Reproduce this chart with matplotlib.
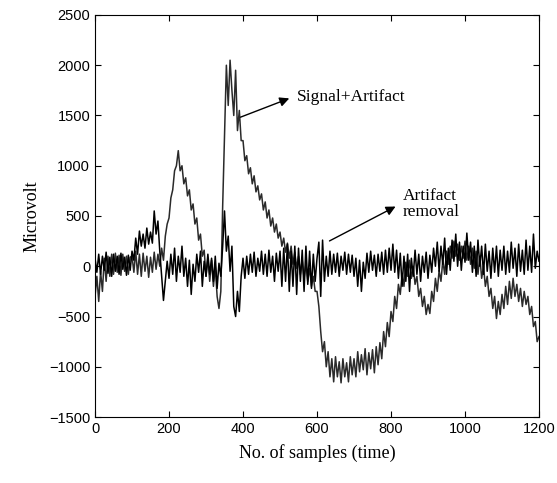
import numpy as np
import matplotlib
matplotlib.use("Agg")
import matplotlib.pyplot as plt

step = 5
samples = np.arange(0, 1201, step)

# Signal + Artifact (values read every 5 samples)
signal_artifact = [
    -300, -100, -350, -50, -250, 80, -150, 100, -100, 120, -80, 130, -60, 110, -90, 120, -50, 100, -80, 90,
    100, -60, 150, -80, 120, -100, 130, -50, 100, -110, 90, -60, 140, -30, 120, 0, 180, 60, 300, 420,
    480, 680, 760, 950, 1000, 1150, 950, 1000, 820, 880, 700, 760, 560, 620, 420, 480, 260, 320, 100, 160,
    -100, 80, -150, 60, -200, 0, -300, -420, -250, 600, 1300, 2000, 1600, 2050, 1750, 1500, 1950, 1350, 1550, 1250,
    1250, 1050, 1100, 920, 980, 820, 900, 740, 800, 660, 720, 560, 640, 480, 560, 400, 480, 340, 420, 280,
    340, 200, 280, 140, 230, 80, 200, 20, 140, -20, 100, -80, 60, -120, 20, -150, -20, -200, -100, -250,
    -250, -400, -650, -850, -750, -1000, -850, -1100, -920, -1150, -900, -1100, -950, -1160, -920, -1100, -960, -1150, -900, -1080,
    -920, -1100, -850, -1050, -880, -1030, -820, -1080, -860, -1020, -830, -1060, -800, -980, -760, -920, -650, -800, -560, -700,
    -450, -550, -300, -420, -180, -280, -80, -200, 40, -100, 60, -120, 0, -180, -100, -300, -220, -400, -300, -480,
    -380, -470, -250, -350, -120, -250, -40, -150, 60, -80, 150, 20, 200, 80, 250, 100, 220, 60, 200, 80,
    250, 60, 200, 20, 180, -20, 150, -80, 100, -120, 0, -200, -100, -300, -220, -420, -300, -520, -350, -480,
    -280, -420, -200, -380, -150, -320, -120, -300, -180, -350, -220, -400, -250, -380, -300, -480, -400, -600, -550, -750,
    -700,
]

# Artifact removal (values read every 5 samples)
artifact_removal = [
    80, -60, 120, -80, 100, -40, 140, -70, 90, -100, 120, -50, 100, -80, 130, -30, 90, -90, 110, -40,
    150, 60, 280, 120, 350, 200, 320, 180, 380, 220, 340, 230, 550, 320, 450, 150, -100, -340, -150, 50,
    -120, 120, -80, 180, -150, 100, -60, 200, -100, 80, -200, 60, -280, 20, -150, 120, -60, 150, -200, 50,
    -100, 120, -80, 80, -150, 100, -220, 30, -100, 200, 550, 150, 300, -50, 200, -400, -500, -250, -450, -100,
    80, -120, 100, -80, 120, -60, 140, -100, 80, -50, 150, -80, 120, -100, 160, -60, 100, -150, 130, -50,
    150, -200, 180, -150, 220, -250, 150, -200, 200, -280, 180, -150, 160, -250, 200, -180, 150, -220, 120, -150,
    80, 240, -300, 260, -150, 100, -100, 150, -80, 120, -60, 130, -100, 100, -40, 140, -80, 120, -60, 110,
    -100, 80, -200, 60, -250, 40, -120, 130, -60, 150, -40, 110, -100, 120, -50, 140, -80, 160, -60, 180,
    -40, 220, -60, 160, -120, 130, -200, 100, -150, 120, -250, 80, -100, 160, -80, 120, -150, 100, -60, 140,
    -120, 110, -60, 180, 0, 240, -50, 200, 20, 280, -80, 180, -40, 260, 50, 320, 0, 240, -40, 200,
    40, 330, 60, 240, -60, 200, -100, 260, 0, 200, -80, 220, -50, 150, -120, 180, -60, 200, -100, 160,
    -40, 200, -80, 150, -60, 240, -20, 180, -100, 220, -50, 160, -80, 260, -40, 200, -60, 320, -20, 150,
    50,
]

x_ticks = [0, 200, 400, 600, 800, 1000, 1200]
y_ticks = [-1500, -1000, -500, 0, 500, 1000, 1500, 2000, 2500]

fig = plt.figure(figsize=(5.57, 4.83), dpi=100)
ax = fig.add_axes([0.1706, 0.1366, 0.7971, 0.8324])

ax.plot(samples, signal_artifact, color="#2a2a2a", lw=1.1)
ax.plot(samples, artifact_removal, color="#000000", lw=1.1)

ax.set_xlim(0, 1200)
ax.set_ylim(-1500, 2500)
ax.set_xticks(x_ticks)
ax.set_yticks(y_ticks)
ax.tick_params(direction="in", top=True, right=True, length=4, width=0.8,
               labelsize=10.5)
for lab in ax.get_xticklabels() + ax.get_yticklabels():
    lab.set_family("Liberation Sans")
for sp in ax.spines.values():
    sp.set_linewidth(0.8)

ax.set_xlabel("No. of samples (time)", family="Liberation Serif", fontsize=13, labelpad=6)
ax.set_ylabel("Microvolt", family="Liberation Serif", fontsize=13, labelpad=6)

ax.annotate("Signal+Artifact", xy=(532, 1680), xytext=(546, 1680),
            family="Liberation Serif", fontsize=12.5, va="center", ha="left")
ax.annotate("", xy=(532, 1680), xytext=(386, 1473),
            arrowprops=dict(arrowstyle="-|>", color="black", lw=1.0, mutation_scale=14))

ax.text(832, 620, "Artifact\nremoval", family="Liberation Serif", fontsize=12.5,
        va="center", ha="left", linespacing=1.0)
ax.annotate("", xy=(819, 607), xytext=(627, 239),
            arrowprops=dict(arrowstyle="-|>", color="black", lw=1.0, mutation_scale=14))

fig.savefig("out.png", dpi=100)
